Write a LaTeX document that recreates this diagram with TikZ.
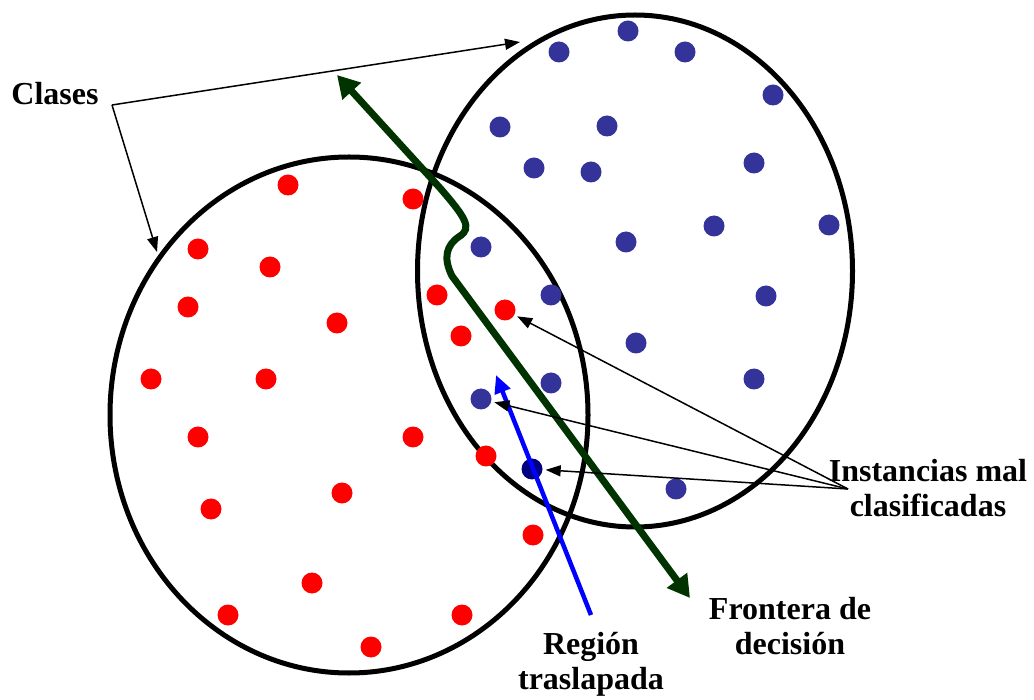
\documentclass[tikz,border=0pt]{standalone}
\usepackage{fontspec}
\setmainfont{Liberation Serif}
\usetikzlibrary{shapes.geometric,arrows.meta}
\definecolor{reddot}{RGB}{255,0,0}
\definecolor{bluedot}{RGB}{51,51,153}
\definecolor{navydot}{RGB}{0,0,128}
\definecolor{boundary}{RGB}{0,51,0}
\begin{document}
\begin{tikzpicture}[x=1pt,y=-1pt,
  classbox/.style={draw=black,line width=5pt,ellipse,inner sep=0pt},
  rdot/.style={circle,fill=reddot,inner sep=0pt,minimum size=21pt},
  bdot/.style={circle,fill=bluedot,inner sep=0pt,minimum size=21pt},
  ndot/.style={circle,fill=navydot,inner sep=0pt,minimum size=21pt},
  lbl/.style={font=\fontsize{32}{35}\selectfont\bfseries,align=center,inner sep=0pt},
  pointer/.style={line width=1.5pt,-{Triangle[length=15pt,width=11pt]}}
]
\useasboundingbox (0,0) rectangle (1034,700);
\fill[white] (0,0) rectangle (1034,700);
% class ellipses
\node[classbox,minimum width=478pt,minimum height=516pt] (red) at (349,415) {};
\node[classbox,minimum width=435pt,minimum height=512pt] (blue) at (635,271) {};
% red instances
\foreach \p [count=\i] in {(288,185),(413,199),(198,249),(270,267),(188,307),(437,295),(505,310),(337,323),(461,336),(151,379),(266,379),(198,437),(413,437),(486,456),(342,493),(211,509),(533,535),(312,583),(228,615),(462,615),(371,647)}
  \node[rdot] (r\i) at \p {};
% blue instances
\foreach \p [count=\i] in {(628,31),(559,52),(685,52),(773,95),(500,127),(607,126),(534,168),(591,172),(754,163),(714,226),(829,225),(481,247),(626,242),(551,295),(766,296),(636,343),(551,383),(754,379),(481,399),(676,489)}
  \node[bdot] (b\i) at \p {};
\node[ndot] (nv) at (532,469) {};
% decision boundary
\coordinate (gtop) at (337,75);
\coordinate (gbot) at (690,598);
\draw[boundary,line width=7pt,{Triangle[length=22pt,width=24pt]}-{Triangle[length=22pt,width=24pt]}]
  (gtop) -- (440,188) .. controls (466,218) and (472,228) .. (460,236)
  .. controls (446,245) and (443,258) .. (452,276) -- (gbot);
% overlapping region arrow
\coordinate (btail) at (591,615);
\coordinate (btip) at (496,375);
\draw[blue,line width=4.5pt,-{Triangle[length=18pt,width=16pt]}] (btail) -- (btip);
% labels
\node[lbl] (clases) at (55,94) {Clases};
\node[lbl] (inst) at (928,488) {Instancias mal\\clasificadas};
\node[lbl] (front) at (790,626) {Frontera de\\decisión};
\node[lbl] (region) at (591,664) {Región\\traslapada};
% Clases pointers
\coordinate (ccorner) at (112,105);
\coordinate (ctipb) at (520,42);
\coordinate (ctipr) at (157,252);
\draw[pointer] (ccorner) -- (ctipb);
\draw[pointer] (ccorner) -- (ctipr);
% Instancias pointers
\coordinate (ianchor) at (848,489);
\draw[pointer,shorten >=3pt] (ianchor) -- (r7);
\draw[pointer,shorten >=3pt] (ianchor) -- (b19);
\draw[pointer,shorten >=3pt] (ianchor) -- (nv);
\end{tikzpicture}
\end{document}
